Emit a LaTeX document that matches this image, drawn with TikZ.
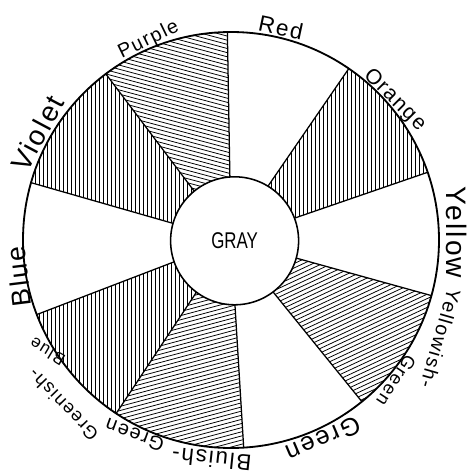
\documentclass[tikz,border=0pt]{standalone}
\usepackage{fontspec}
\setmainfont{Liberation Sans}
\newfontfamily\handfont[LetterSpace=8]{Liberation Sans}
\usetikzlibrary{calc}

\begin{document}
\begin{tikzpicture}[
    rim/.style={line width=1.3pt},
    spoke/.style={line width=0.9pt},
    hatch/.style={line width=0.55pt},
    hub/.style={circle, draw, line width=1.1pt, fill=white, minimum size=3.2cm, inner sep=0pt, font=\fontsize{12}{12}\selectfont},
    colorname/.style={inner sep=0pt, anchor=base, font=\handfont\fontsize{#1}{#1}\selectfont}
]
    \useasboundingbox (-5.775,-5.825) rectangle (6.05,6.0);

    % hatched sectors: start angle / end angle / direction of the lines
    \foreach \a/\b/\h in {55.5/19/90, -15.5/-51/25, -86.5/-123.5/15, -123.5/-159/90, 164/127/90, 127/91/-15}{
        \begin{scope}
            \clip (0,0) -- (\a:5.2) arc[start angle=\a, end angle=\b, radius=5.2cm] -- cycle;
            \foreach \k in {-55,...,55}
                \draw[hatch, rotate=\h] (-6,\k*0.1) -- (6,\k*0.1);
        \end{scope}
    }

    % spokes and rim
    \foreach \a in {91,55.5,19,-15.5,-51,-86.5,-123.5,-159,164,127}
        \draw[spoke] (0,0) -- (\a:5.2);
    \draw[rim] (0,0) circle[radius=5.2];

    \node[hub] (gray) at (0.09,-0.02) {\scalebox{1}[1.35]{GRAY}};

    % colour names round the rim (base line toward the centre)
    \node[colorname=16, rotate=-12] (red) at (76.7:5.25) {Red};
    \node[colorname=15, rotate=-45] (orange) at (40.4:5.25) {Orange};
    \node[colorname=20, rotate=-90] (yellow) at (2:5.4) {Yellow};
    \node[colorname=14, rotate=-106] (yellowish) at (-25.5:5.62) {Yellowish-};
    \node[colorname=13, rotate=-123] (yellowishgreen) at (-40.6:5.27) {Green};
    \node[colorname=18, rotate=-157] (green) at (-65.1:5.27) {Green};
    \node[colorname=16, rotate=174] (bluish) at (-95:5.3) {Bluish-};
    \node[colorname=14, rotate=160] (bluishgreen) at (-116.5:5.27) {Green};
    \node[colorname=13, rotate=134] (greenish) at (-135.5:5.72) {Greenish-};
    \node[colorname=12, rotate=149] (greenishblue) at (-149.5:5.24) {Blue};
    \node[colorname=19, rotate=97] (blue) at (-170:5.15) {Blue};
    \node[colorname=20, rotate=62] (violet) at (151.1:5.28) {Violet};
    \node[colorname=14, rotate=26] (purple) at (112.3:5.28) {Purple};
\end{tikzpicture}
\end{document}
